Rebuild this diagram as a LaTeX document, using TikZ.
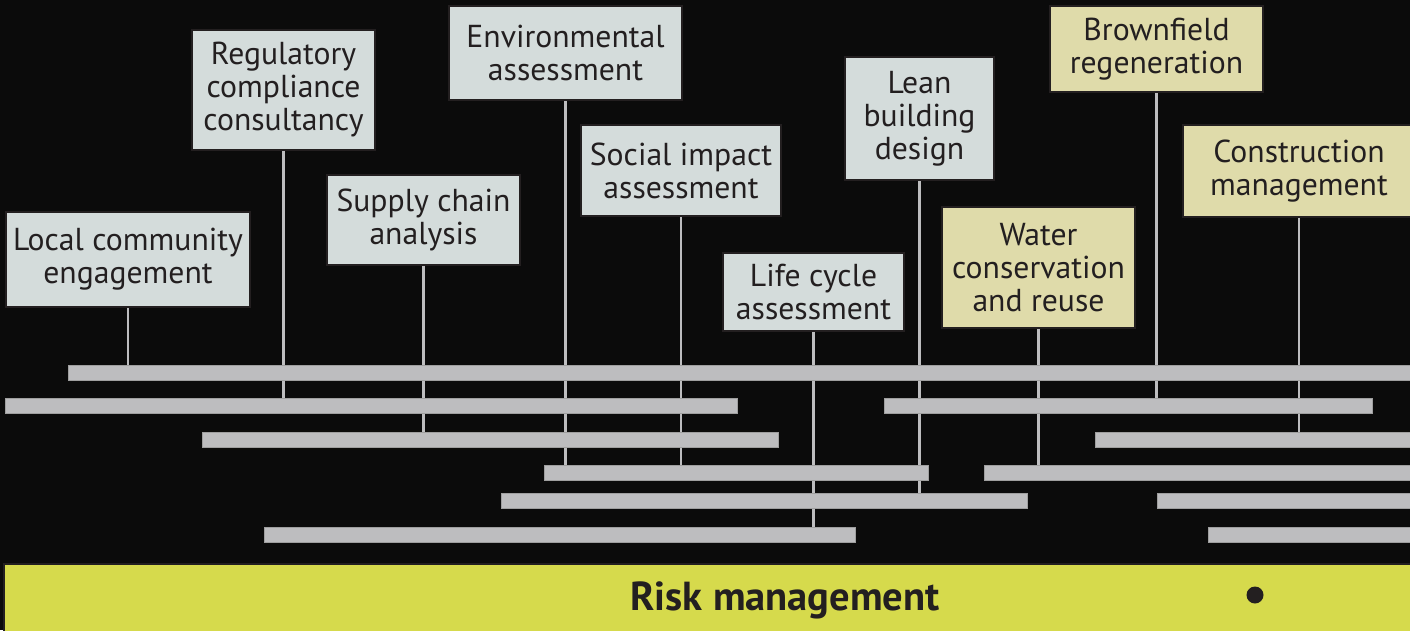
\documentclass[tikz,border=0pt]{standalone}
\usepackage{fontspec}
\setmainfont{PT Sans}
\usetikzlibrary{positioning}

\definecolor{bgdark}{HTML}{0B0B0B}
\definecolor{boxgrey}{HTML}{D4DCDB}
\definecolor{boxsand}{HTML}{DFDBAA}
\definecolor{barfill}{HTML}{BDBDBF}
\definecolor{lime}{HTML}{D6DA4C}
\definecolor{ink}{HTML}{231F20}

\pgfdeclarelayer{back}
\pgfdeclarelayer{lines}
\pgfsetlayers{back,lines,main}

\tikzset{
  topic/.style={draw=ink, line width=2.5pt, fill=boxgrey, text=ink, align=center,
    inner sep=0pt, font=\fontsize{31.7}{33}\selectfont},
  sand topic/.style={topic, fill=boxsand},
  track/.style={fill=barfill, draw=gray!75, line width=0.6pt, inner sep=0pt,
    outer sep=0pt, minimum height=15, anchor=north west},
  stem/.style={draw=barfill, line width=2.5pt},
}

\begin{document}
\begin{tikzpicture}[x=1pt,y=-1pt]
\useasboundingbox (0,0) rectangle (1410,630);
\begin{pgfonlayer}{back}
\fill[bgdark] (0,0) rectangle (1410,630);
\end{pgfonlayer}

% topics
\node[topic, minimum width=244, minimum height=95] (local) at (128,259.5) {Local community\\engagement};
\node[topic, minimum width=183, minimum height=120] (reg) at (283.5,90) {Regulatory\\compliance\\consultancy};
\node[topic, minimum width=193, minimum height=90] (supply) at (423.5,220) {Supply chain\\analysis};
\node[topic, minimum width=233, minimum height=94] (env) at (565.5,53) {Environmental\\assessment};
\node[topic, minimum width=200, minimum height=91] (social) at (681,170.5) {Social impact\\assessment};
\node[topic, minimum width=181, minimum height=78] (life) at (813.5,292) {Life cycle\\assessment};
\node[topic, minimum width=149, minimum height=123] (lean) at (919.5,118.5) {Lean\\building\\design};
\node[sand topic, minimum width=193, minimum height=121] (water) at (1038.5,267.5) {Water\\conservation\\and reuse};
\node[sand topic, minimum width=213, minimum height=86] (brown) at (1156.5,49) {Brownfield\\regeneration};
\node[sand topic, minimum width=232, minimum height=92] (constr) at (1299,171) {Construction\\management};

% tracks
\foreach \n/\a/\b/\y in {r1/68/1420/365, r2a/5/737/398, r2b/884/1372/398,
    r3a/202/778/432, r3b/1095/1420/432, r4a/544/928/465, r4b/984/1420/465,
    r5a/501/1027/493, r5b/1157/1420/493, r6a/264/855/527, r6b/1208/1420/527}{
  \node[track, minimum width={\b-\a}] (\n) at (\a,\y) {};
}

\begin{pgfonlayer}{lines}
\foreach \t/\r in {local/r1, reg/r2a, supply/r3a, env/r4a, social/r4a,
    life/r6a, lean/r5a, water/r4b, brown/r2b, constr/r3b}{
  \draw[stem] (\t.south) -- (\t.south |- \r.north);
}
\end{pgfonlayer}

% risk band
\node[draw=ink, line width=2pt, fill=lime, inner sep=0pt, anchor=north west,
  minimum width=1600, minimum height=72] (band) at (3,563) {};
\node[text=ink, font=\bfseries\fontsize{40.5}{42}\selectfont] (risk) at (785,600) {Risk management};
\node[circle, fill=ink, inner sep=0pt, minimum size=17] (dot) at (1255,595) {};
\end{tikzpicture}
\end{document}
